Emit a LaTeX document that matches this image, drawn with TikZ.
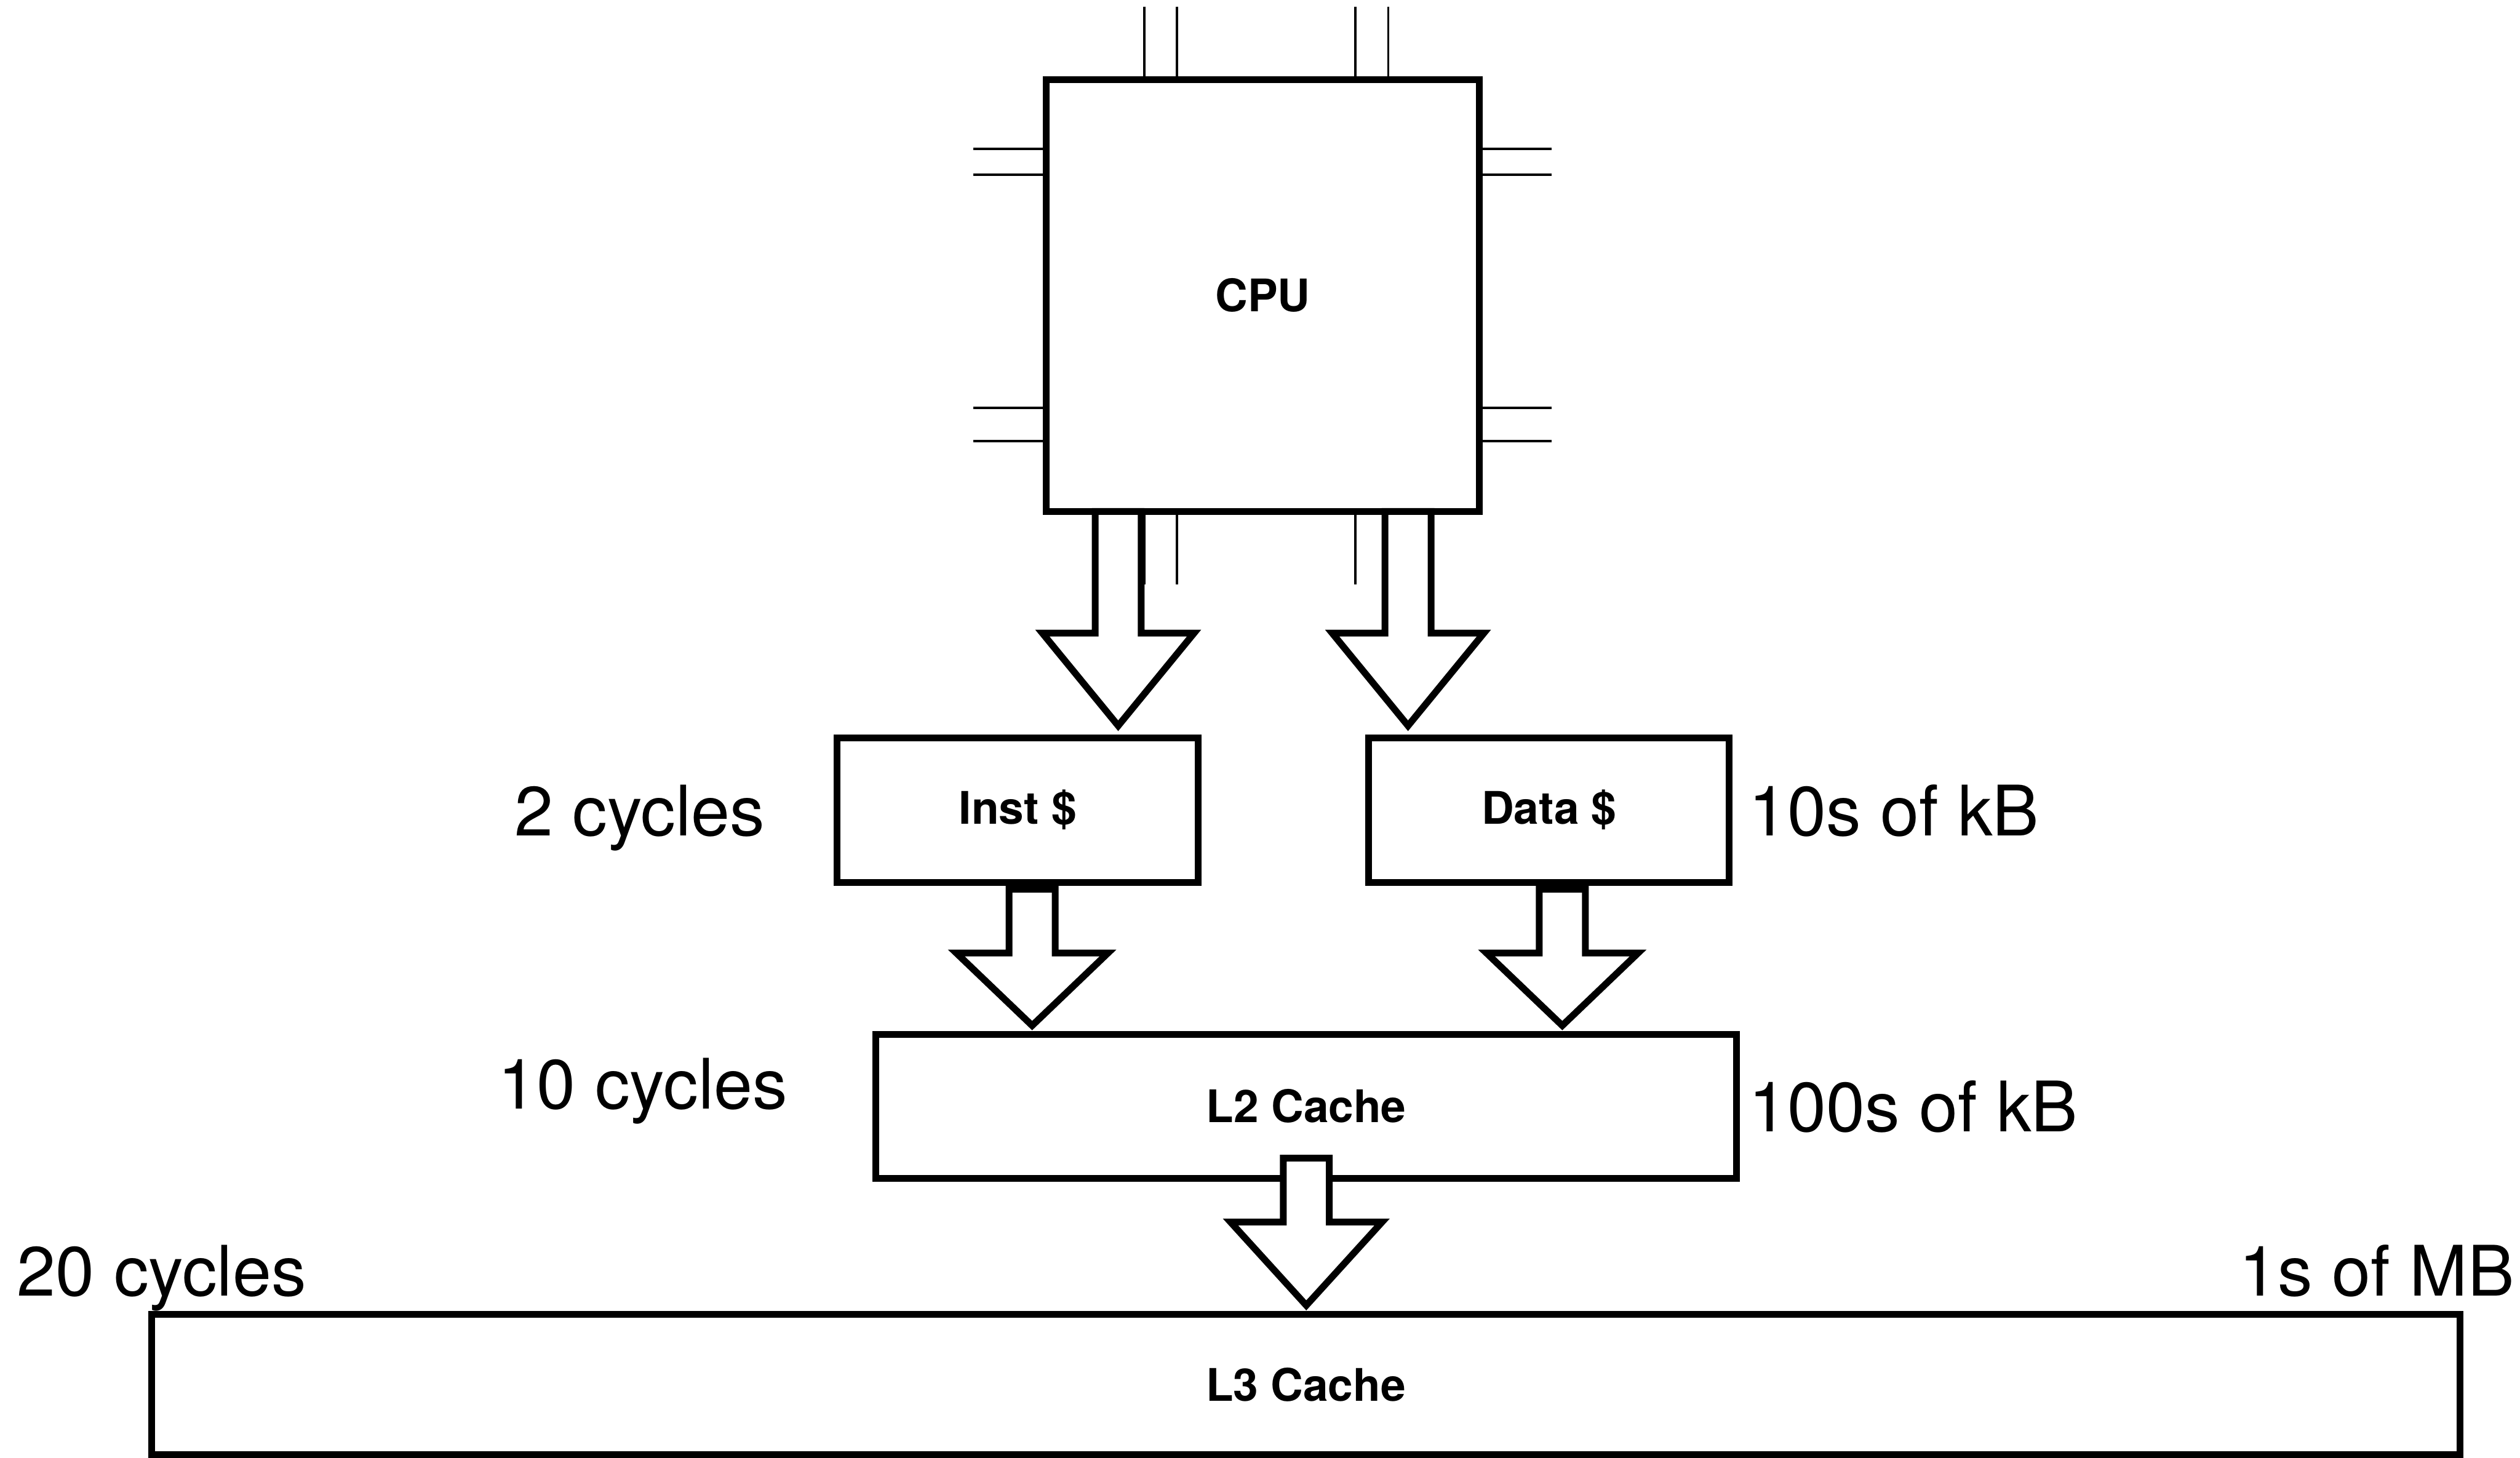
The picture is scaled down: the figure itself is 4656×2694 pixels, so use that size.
\documentclass[tikz,border=0pt]{standalone}
\usepackage{fontspec}
\setmainfont{TeX Gyre Heros}
\usetikzlibrary{calc}
\newcommand{\fatarrow}[3]{%
  \filldraw[fatarr] let \p1=(#1), \p2=(#2) in
    (\x1-0.425cm,\y1) -- (\x1+0.425cm,\y1) -- (\x1+0.425cm,\y2+#3) -- (\x1+1.4cm,\y2+#3)
    -- (\x2,\y2) -- (\x1-1.4cm,\y2+#3) -- (\x1-0.425cm,\y2+#3) -- cycle;}
\begin{document}
\begin{tikzpicture}[x=0.01cm,y=-0.01cm,
  box/.style={draw,line width=0.125cm,rectangle,inner sep=0pt,fill=white,
    font=\fontsize{23.6}{28}\selectfont\bfseries},
  pin/.style={line width=0.045cm},
  big/.style={font=\fontsize{36.6}{40}\selectfont,inner sep=0pt},
  fatarr/.style={draw,fill=white,line width=0.125cm,line join=miter}]
\useasboundingbox (0,0) rectangle (4656,2694);

% CPU
\node[box,minimum width=8cm,minimum height=7.98cm] (cpu) at (2333,546) {CPU};
% pins top and bottom
\foreach \px in {2114,2175,2504,2565}{
  \draw[pin] (\px,12) -- (\px,147);
  \draw[pin] (\px,945) -- (\px,1080);
}
% pins sides
\foreach \py in {275,323,754,815}{
  \draw[pin] (1798,\py) -- (1933,\py);
  \draw[pin] (2733,\py) -- (2867,\py);
}

% caches
\node[box,minimum width=6.67cm,minimum height=2.67cm] (inst) at (1880.5,1496.5) {Inst \$};
\node[box,minimum width=6.66cm,minimum height=2.67cm] (data) at (2862,1496.5) {Data \$};
\node[box,minimum width=15.89cm,minimum height=2.66cm] (l2) at (2413.5,2044) {L2 Cache};
\node[box,minimum width=42.63cm,minimum height=2.59cm] (l3) at (2412.5,2558.5) {L3 Cache};

% arrow end points
\coordinate (a1s) at (2066,945);   \coordinate (a1t) at (2066,1341);
\coordinate (a2s) at (2601.5,945); \coordinate (a2t) at (2601.5,1341);
\coordinate (a3s) at (1907,1643);  \coordinate (a3t) at (1907,1895);
\coordinate (a4s) at (2886.5,1643);\coordinate (a4t) at (2886.5,1895);
\coordinate (a5s) at (2413.5,2140);\coordinate (a5t) at (2413.5,2412);

\fatarrow{a1s}{a1t}{1.71cm}
\fatarrow{a2s}{a2t}{1.71cm}
\fatarrow{a3s}{a3t}{1.34cm}
\fatarrow{a4s}{a4t}{1.34cm}
\fatarrow{a5s}{a5t}{1.54cm}

% labels
\node[big,anchor=base west] (lat1) at (950,1544) {2 cycles};
\node[big,anchor=base west] (lat2) at (920,2049) {10 cycles};
\node[big,anchor=base west] (lat3) at (31,2395) {20 cycles};
\node[big,anchor=base west] (sz1) at (3230,1544) {10s of kB};
\node[big,anchor=base west] (sz2) at (3230,2091) {100s of kB};
\node[big,anchor=base east] (sz3) at (4646,2395) {1s of MB};
\end{tikzpicture}
\end{document}
